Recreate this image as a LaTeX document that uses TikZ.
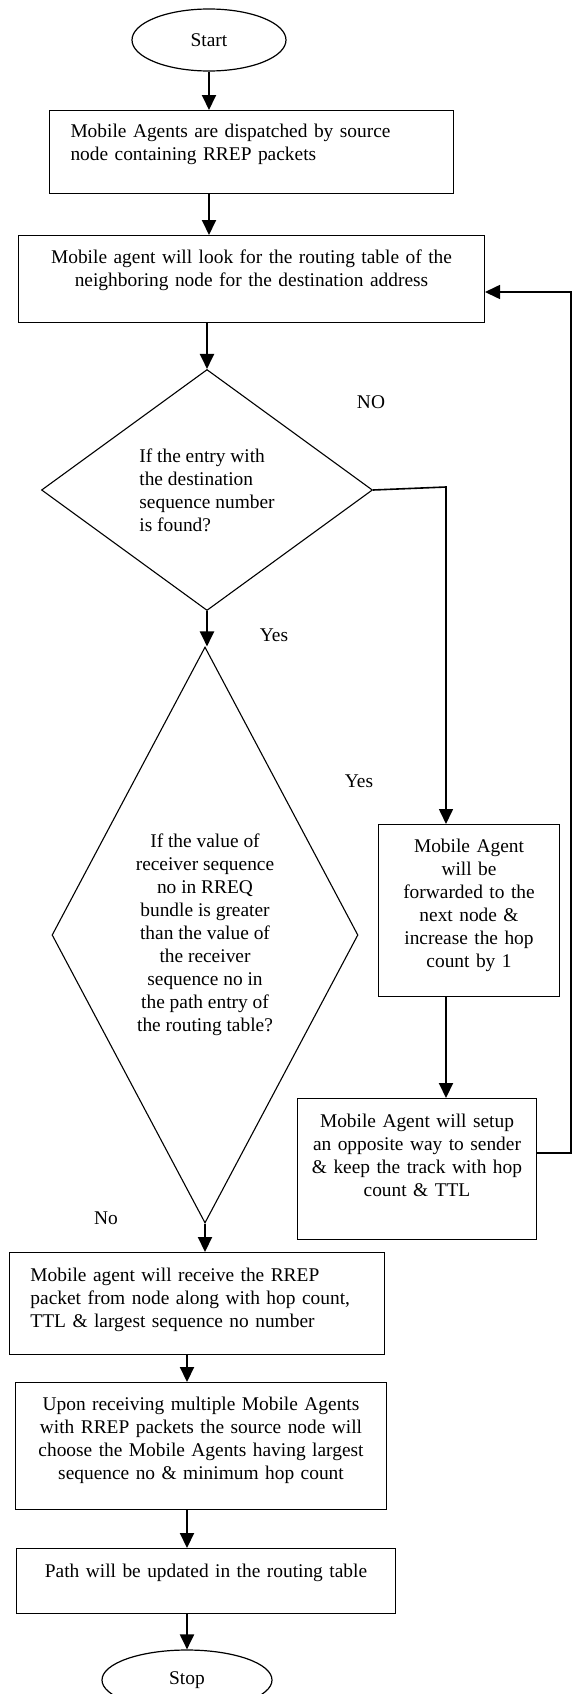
\documentclass[tikz,border=0pt]{standalone}
\usepackage{fontspec}
\setmainfont{Liberation Serif}
\usepackage{tikz}
\usetikzlibrary{arrows.meta,shapes.geometric}

\begin{document}
\begin{tikzpicture}[x=1pt,y=-1pt,
  every node/.style={font=\fontsize{19.4pt}{23pt}\selectfont},
  term/.style={draw,ellipse,line width=1.2pt,inner sep=0pt},
  procbox/.style={draw,line width=1pt,anchor=north west,inner ysep=0pt},
  decide/.style={draw,diamond,line width=1.1pt,inner sep=0pt},
  arr/.style={line width=2pt,-{Triangle[length=15pt,width=14pt]}}]
  \useasboundingbox (0,0) rectangle (573,1694);

  \node[term,minimum width=154pt,minimum height=62pt] (start) at (209,40) {Start};
  \node[procbox,text width=362pt,inner xsep=21pt,text height=27pt,text depth=56pt,align=left] (disp) at (49,110)
    {Mobile Agents are dispatched by source\\node containing RREP packets};
  \node[procbox,text width=456pt,inner xsep=5pt,text height=28pt,text depth=59pt,align=center] (look) at (18,235)
    {Mobile agent will look for the routing table of the\\neighboring node for the destination address};
  \node[decide,shape aspect=1.37,minimum width=331pt,minimum height=241pt,align=left] (d1) at (207,490)
    {If the entry with\\the destination\\sequence number\\is found?};
  \node[decide,shape aspect=0.53,minimum width=306pt,minimum height=576pt,align=center] (d2) at (205,935)
    {If the value of\\receiver sequence\\no in RREQ\\bundle is greater\\than the value of\\the receiver\\sequence no in\\the path entry of\\the routing table?};
  \node[procbox,text width=171pt,inner xsep=5pt,text height=28pt,text depth=144pt,align=center] (fwd) at (378,824)
    {Mobile Agent\\will be\\forwarded to the\\next node \&\\increase the hop\\count by 1};
  \node[procbox,text width=229pt,inner xsep=5pt,text height=29pt,text depth=112pt,align=center] (setup) at (297,1098)
    {Mobile Agent will setup\\an opposite way to sender\\\& keep the track with hop\\count \& TTL};
  \node[procbox,text width=333pt,inner xsep=21pt,text height=29pt,text depth=73pt,align=left] (recv) at (9,1252)
    {Mobile agent will receive the RREP\\packet from node along with hop count,\\TTL \& largest sequence no number};
  \node[procbox,text width=361pt,inner xsep=5pt,text height=28pt,text depth=99pt,align=center] (choose) at (15,1382)
    {Upon receiving multiple Mobile Agents\\with RREP packets the source node will\\choose the Mobile Agents having largest\\sequence no \& minimum hop count};
  \node[procbox,text width=369pt,inner xsep=5pt,text height=29pt,text depth=36pt,align=center] (path) at (16,1548)
    {Path will be updated in the routing table};
  \node[term,minimum width=170pt,minimum height=60pt] (stop) at (187,1680) {Stop};

  \node (lno) at (371,402) {NO};
  \node (lyes) at (274,635) {Yes};
  \node (lyes2) at (359,781) {Yes};
  \node (lno2) at (106,1218) {No};

  \coordinate (nocorner) at (446,487);
  \coordinate (loopbot) at (571,1153);
  \coordinate (looptop) at (571,292);

  \draw[arr] (start.south) -- (start.south |- disp.north);
  \draw[arr] (disp.south -| start) -- (look.north -| start);
  \draw[arr] (look.south -| d1) -- (d1.north);
  \draw[arr] (d1.south) -- (d1.south |- d2.north);
  \draw[arr,line width=1.6pt] (d1.east) -- (nocorner) -- (nocorner |- fwd.north);
  \draw[arr] (fwd.south -| nocorner) -- (setup.north -| nocorner);
  \draw[arr,line width=1.6pt] (setup.east |- loopbot) -- (loopbot) -- (looptop) -- (look.east |- looptop);
  \draw[arr] (d2.south) -- (d2.south |- recv.north);
  \foreach \a/\b in {recv/choose,choose/path,path/stop}
    \draw[arr] (\a.south -| stop) -- (\b.north -| stop);
\end{tikzpicture}
\end{document}
